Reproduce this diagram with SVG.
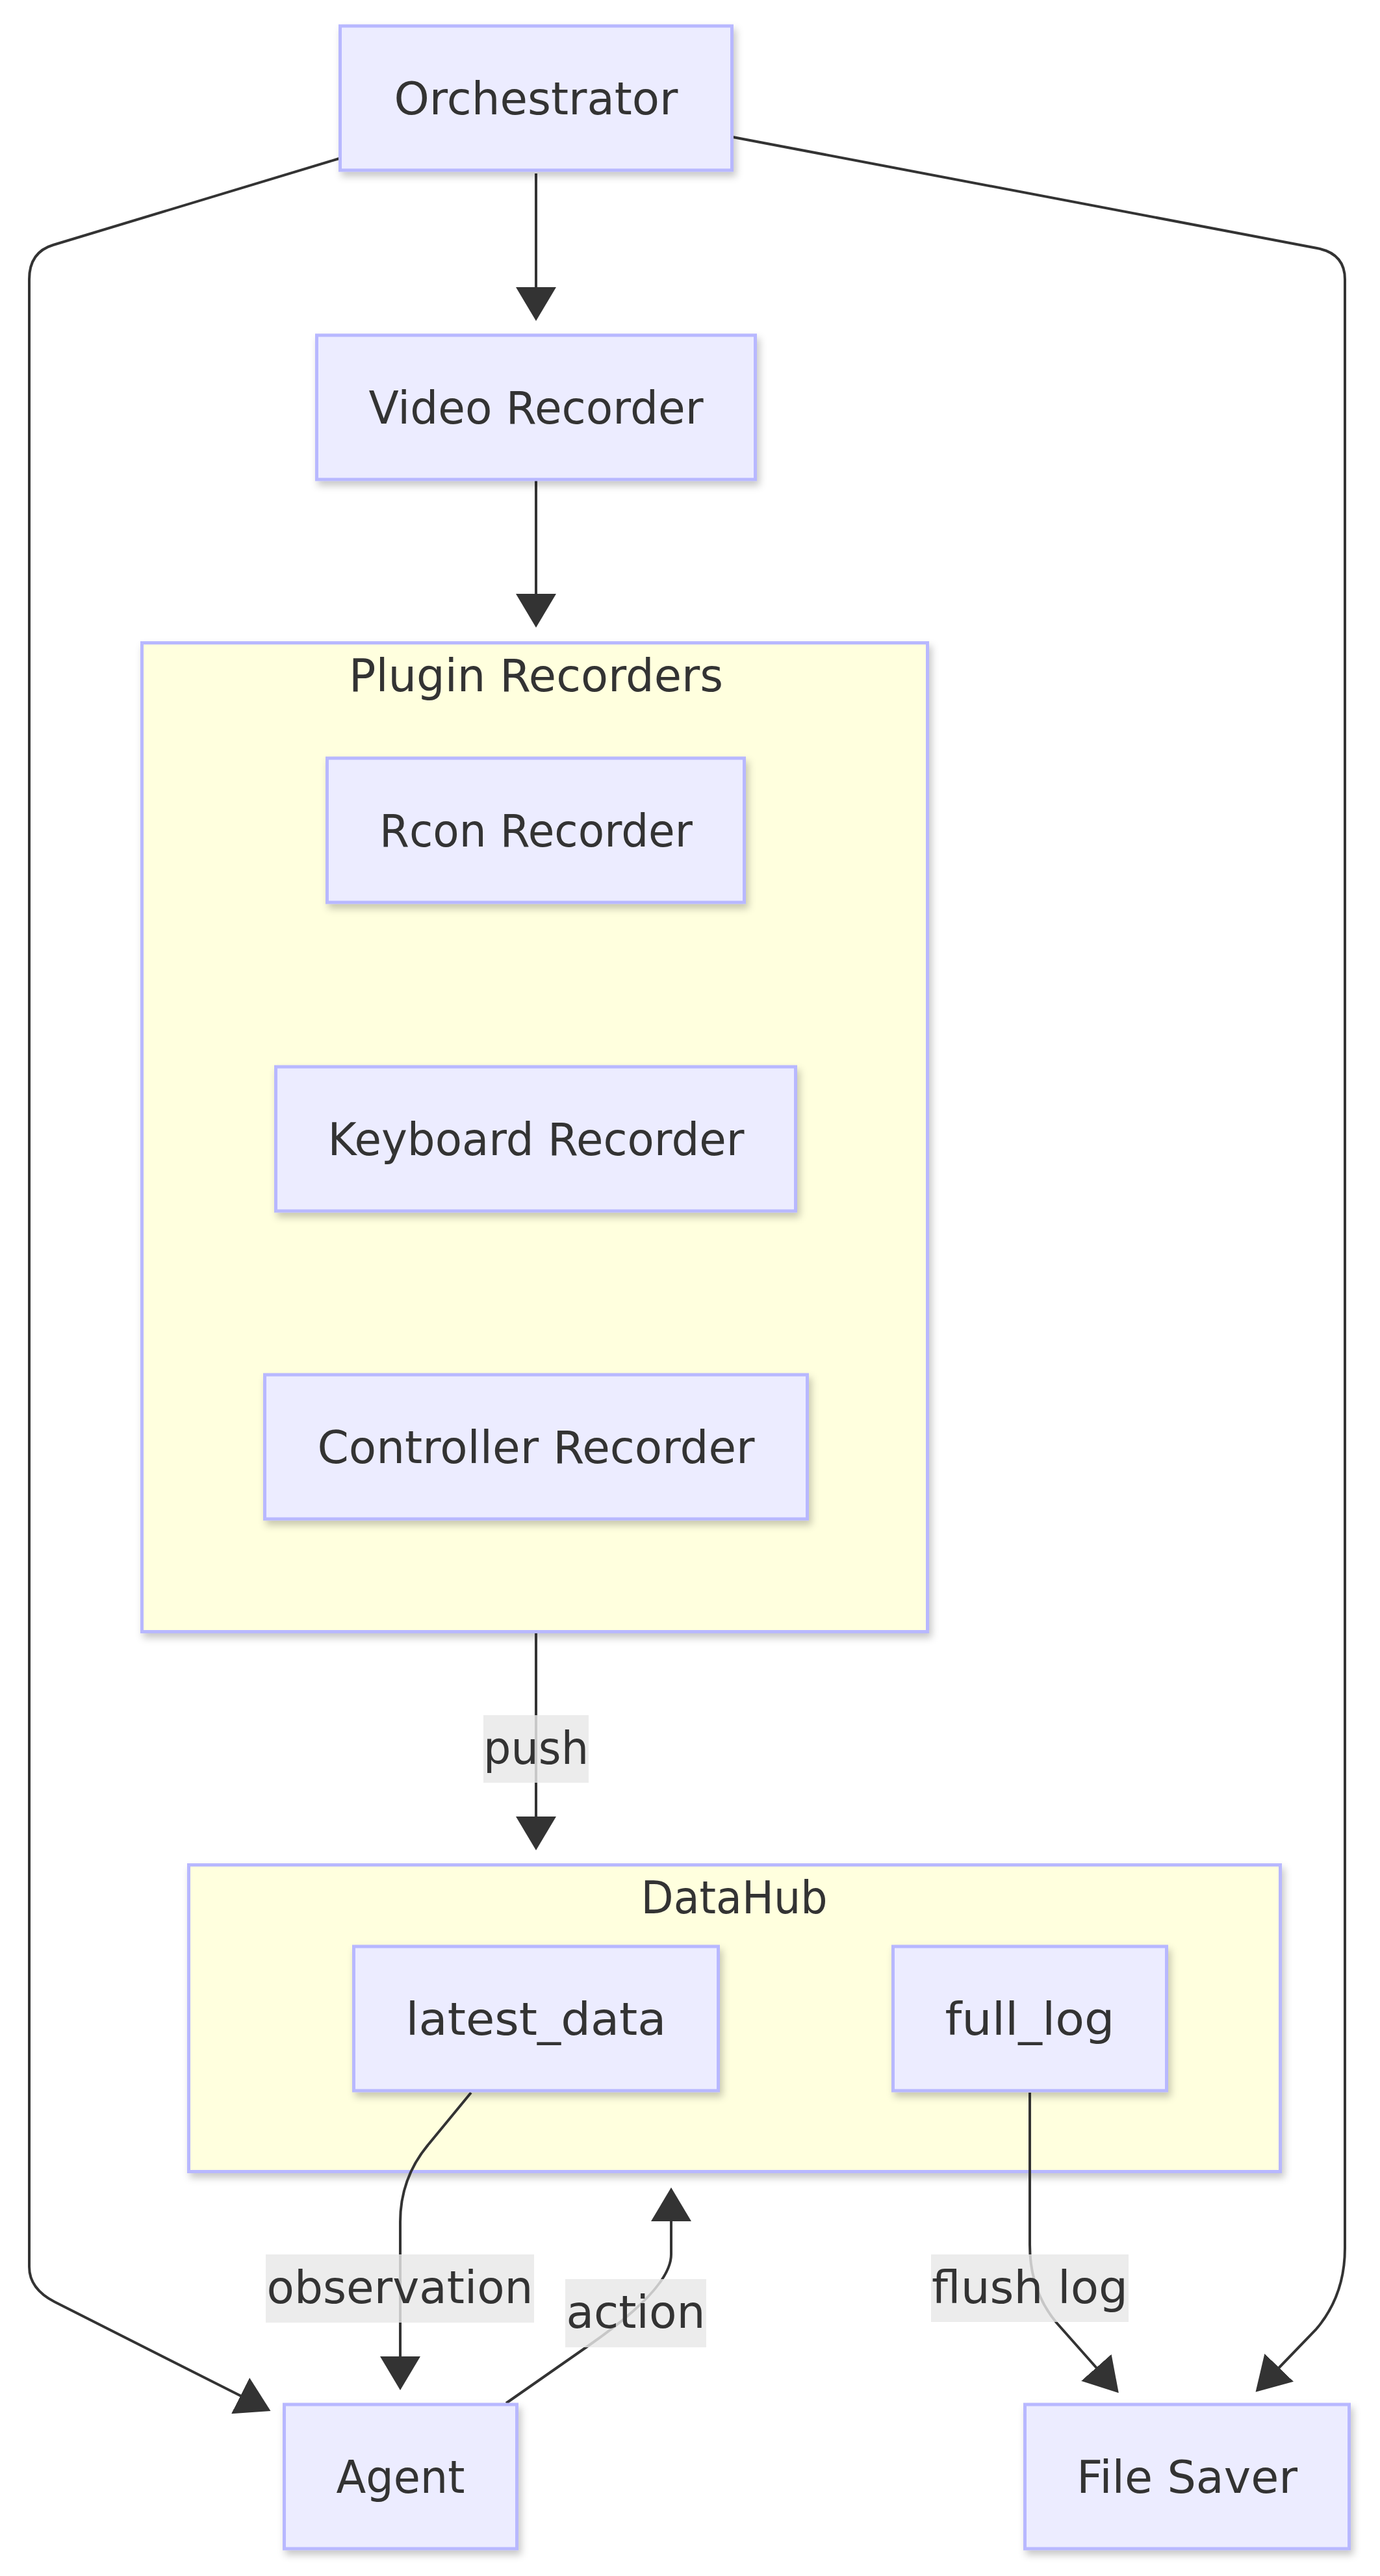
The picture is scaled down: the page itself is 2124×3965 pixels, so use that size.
<svg xmlns="http://www.w3.org/2000/svg" width="2124" height="3965" viewBox="0 0 2124 3965">
<style>
.node rect{fill:#ececff;stroke:#b8b8ff;stroke-width:5;}
.cluster rect{fill:#ffffde;stroke:#b8b8ff;stroke-width:5;}
text{font-family:"DejaVu Sans","Liberation Sans",sans-serif;font-size:70px;fill:#333333;text-anchor:middle;}
.edge{fill:none;stroke:#333333;stroke-width:4;}
.lbl rect{fill:#e8e8e8;fill-opacity:0.82;}
</style>
<defs>
<filter id="shadow" x="-20%" y="-20%" width="140%" height="140%">
<feDropShadow dx="4" dy="7" stdDeviation="6" flood-color="#000000" flood-opacity="0.22"/>
</filter>
<marker id="arrow" markerUnits="userSpaceOnUse" markerWidth="52" markerHeight="62" viewBox="0 0 52 62" refX="1" refY="31" orient="auto">
<path d="M0,0 L52,31 L0,62 z" fill="#333333"/>
</marker>
</defs>
<rect x="0" y="0" width="2124" height="3965" fill="#ffffff"/>

<g id="cluster-plugin" class="cluster">
<rect x="218.5" y="989.5" width="1209" height="1522" filter="url(#shadow)"/>
<text x="825" y="1064" textLength="576" lengthAdjust="spacingAndGlyphs">Plugin Recorders</text>
</g>
<g id="cluster-datahub" class="cluster">
<rect x="290.5" y="2870.5" width="1680" height="472" filter="url(#shadow)"/>
<text x="1130" y="2945" textLength="287" lengthAdjust="spacingAndGlyphs">DataHub</text>
</g>

<g id="connectors">
<path class="edge" d="M825,267 L825,443" marker-end="url(#arrow)"/>
<path class="edge" d="M825,739 L825,915" marker-end="url(#arrow)"/>
<path class="edge" d="M825,2514 L825,2797" marker-end="url(#arrow)"/>
<path class="edge" d="M725,3221 L660,3300 Q616,3352 616,3420 L616,3628" marker-end="url(#arrow)"/>
<path class="edge" d="M779,3699 L905,3611 Q1033,3522 1033,3470 L1033,3418" marker-end="url(#arrow)"/>
<path class="edge" d="M1585,3221 L1585,3455 Q1585,3526 1626,3575 L1688,3645" marker-end="url(#arrow)"/>
<path class="edge" d="M522,244 L82,377 Q45,388 45,430 L45,3489 Q45,3523 84,3543 L371,3688" marker-end="url(#arrow)"/>
<path class="edge" d="M1128,211 L2027,382 Q2070,390 2070,430 L2070,3460 Q2070,3534 2025,3586 L1968,3645" marker-end="url(#arrow)"/>
<g class="lbl">
<rect x="744" y="2640" width="162" height="104"/>
<text x="825" y="2715" textLength="162" lengthAdjust="spacingAndGlyphs">push</text>
<rect x="409" y="3470" width="413" height="105"/>
<text x="615.5" y="3545" textLength="410" lengthAdjust="spacingAndGlyphs">observation</text>
<rect x="870" y="3508" width="217" height="105"/>
<text x="978.5" y="3583" textLength="214" lengthAdjust="spacingAndGlyphs">action</text>
<rect x="1433" y="3470" width="304" height="104"/>
<text x="1585" y="3545" textLength="302" lengthAdjust="spacingAndGlyphs">flush log</text>
</g>
</g>

<g id="node-orchestrator" class="node">
<rect x="523.5" y="40" width="603" height="222" filter="url(#shadow)"/>
<text x="825" y="176" textLength="437" lengthAdjust="spacingAndGlyphs">Orchestrator</text>
</g>
<g id="node-video" class="node">
<rect x="487.5" y="516" width="675" height="222" filter="url(#shadow)"/>
<text x="825" y="652" textLength="515" lengthAdjust="spacingAndGlyphs">Video Recorder</text>
</g>
<g id="node-rcon" class="node">
<rect x="503.5" y="1167" width="642" height="222" filter="url(#shadow)"/>
<text x="825" y="1303" textLength="482" lengthAdjust="spacingAndGlyphs">Rcon Recorder</text>
</g>
<g id="node-keyboard" class="node">
<rect x="424.5" y="1642" width="800" height="222" filter="url(#shadow)"/>
<text x="825" y="1778" textLength="641" lengthAdjust="spacingAndGlyphs">Keyboard Recorder</text>
</g>
<g id="node-controller" class="node">
<rect x="407.5" y="2116" width="835" height="222" filter="url(#shadow)"/>
<text x="825" y="2252" textLength="673" lengthAdjust="spacingAndGlyphs">Controller Recorder</text>
</g>
<g id="node-latest" class="node">
<rect x="544.5" y="2996" width="561" height="222" filter="url(#shadow)"/>
<text x="825" y="3132" textLength="401" lengthAdjust="spacingAndGlyphs">latest_data</text>
</g>
<g id="node-fulllog" class="node">
<rect x="1374.5" y="2996" width="421" height="222" filter="url(#shadow)"/>
<text x="1585" y="3132" textLength="261" lengthAdjust="spacingAndGlyphs">full_log</text>
</g>
<g id="node-agent" class="node">
<rect x="437.5" y="3701" width="358" height="222" filter="url(#shadow)"/>
<text x="616.5" y="3837" textLength="198" lengthAdjust="spacingAndGlyphs">Agent</text>
</g>
<g id="node-filesaver" class="node">
<rect x="1577.5" y="3701" width="499" height="222" filter="url(#shadow)"/>
<text x="1827" y="3837" textLength="340" lengthAdjust="spacingAndGlyphs">File Saver</text>
</g>
</svg>
